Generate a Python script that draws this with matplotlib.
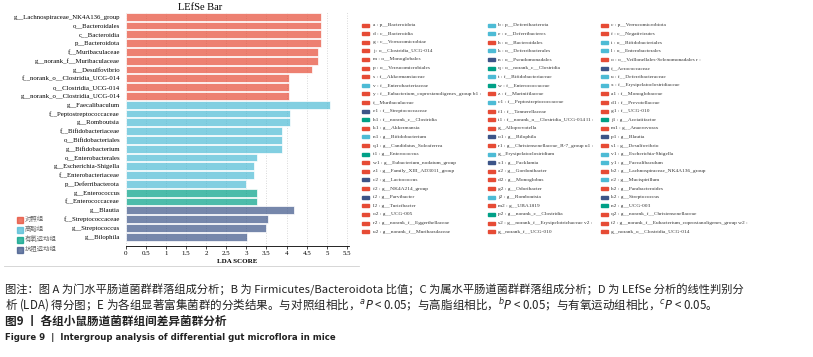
import matplotlib.pyplot as plt
from matplotlib.colors import to_rgba
from matplotlib.patches import Rectangle
from matplotlib.lines import Line2D

# LEfSe bar data (top to bottom)
features = ['g__Lachnospiraceae_NK4A136_group', 'o__Bacteroidales', 'c__Bacteroidia',
            'p__Bacteroidota', 'f__Muribaculaceae', 'g__norank_f__Muribaculaceae',
            'g__Desulfovibrio', 'f__norank_o__Clostridia_UCG-014', 'o__Clostridia_UCG-014',
            'g__norank_o__Clostridia_UCG-014', 'g__Faecalibaculum', 'f__Peptostreptococcaceae',
            'g__Romboutsia', 'f__Bifidobacteriaceae', 'o__Bifidobacteriales',
            'g__Bifidobacterium', 'o__Enterobacterales', 'g__Escherichia-Shigella',
            'f__Enterobacteriaceae', 'p__Deferribacterota', 'g__Enterococcus',
            'f__Enterococcaceae', 'g__Blautia', 'f__Streptococcaceae', 'g__Streptococcus',
            'g__Bilophila']
lda_scores = [4.85, 4.85, 4.85, 4.85, 4.79, 4.79, 4.62, 4.06, 4.06, 4.06,
              5.09, 4.09, 4.09, 3.89, 3.89, 3.89, 3.26, 3.20, 3.20, 3.00,
              3.26, 3.26, 4.19, 3.55, 3.48, 3.02]
feature_group = [0] * 10 + [1] * 10 + [2] * 2 + [3] * 4
group_names = ['对照组', '高脂组', '有氧运动组', '抗阻运动组']
group_colors = ['#E64B35', '#4DBBD5', '#00A087', '#3C5488']
x_ticks = [0, 0.5, 1, 1.5, 2, 2.5, 3, 3.5, 4, 4.5, 5, 5.5]

# cladogram key (label, group index) per column
key_col1 = [('a : p__Bacteroidota', 0), ('d : c__Bacteroidia', 0), ('g : c__Verrucomicrobiae', 0),
            ('j : o__Clostridia_UCG-014', 0), ('m : o__Monoglobales', 0),
            ('p : o__Verrucomicrobiales', 0), ('s : f__Akkermansiaceae', 0),
            ('v : f__Enterobacteriaceae', 1),
            ('y : f__Eubacterium_coprostanoligenes_group b1 :', 0), ('f__Muribaculaceae', 0),
            ('e1 : f__Streptococcaceae', 3), ('h1 : f__norank_c__Clostridia', 2),
            ('k1 : g__Akkermansia', 0), ('n1 : g__Bifidobacterium', 1),
            ('q1 : g__Candidatus_Soleaferrea', 0), ('t1 : g__Enterococcus', 2),
            ('w1 : g__Eubacterium_nodatum_group', 0), ('z1 : g__Family_XIII_AD3011_group', 0),
            ('c2 : g__Lactococcus', 3), ('f2 : g__NK4A214_group', 0), ('i2 : g__Parvibacter', 3),
            ('l2 : g__Turicibacter', 0), ('o2 : g__UCG-005', 0),
            ('r2 : g__norank_f__Eggerthellaceae', 0), ('u2 : g__norank_f__Muribaculaceae', 0)]
key_col2 = [('b : p__Deferribacterota', 1), ('e : c__Deferribacteres', 1),
            ('h : o__Bacteroidales', 0), ('k : o__Deferribacterales', 1),
            ('n : o__Pseudomonadales', 3), ('q : o__norank_c__Clostridia', 2),
            ('t : f__Bifidobacteriaceae', 1), ('w : f__Enterococcaceae', 2),
            ('z : f__Marinifilaceae', 0), ('c1 : f__Peptostreptococcaceae', 1),
            ('f1 : f__Tannerellaceae', 0), ('i1 : f__norank_o__Clostridia_UCG-014 l1 :', 0),
            ('g__Alloprevotella', 0), ('o1 : g__Bilophila', 3),
            ('r1 : g__Christensenellaceae_R-7_group u1 :', 0), ('g__Erysipelatoclostridium', 1),
            ('x1 : g__Facklamia', 3), ('a2 : g__Gordonibacter', 0), ('d2 : g__Monoglobus', 0),
            ('g2 : g__Odoribacter', 0), ('j2 : g__Romboutsia', 1), ('m2 : g__UBA1819', 0),
            ('p2 : g__norank_c__Clostridia', 2),
            ('s2 : g__norank_f__Erysipelotrichaceae v2 :', 0), ('g__norank_f__UCG-010', 0)]
key_col3 = [('c : p__Verrucomicrobiota', 0), ('f : c__Negativicutes', 0),
            ('i : o__Bifidobacteriales', 1), ('l : o__Enterobacterales', 1),
            ('o : o__Veillonellales-Selenomonadales r :', 0), ('f__Aerococcaceae', 3),
            ('u : f__Deferribacteraceae', 1), ('x : f__Erysipelatoclostridiaceae', 1),
            ('a1 : f__Monoglobaceae', 0), ('d1 : f__Prevotellaceae', 0), ('g1 : f__UCG-010', 0),
            ('j1 : g__Acetatifactor', 2), ('m1 : g__Anaerovorax', 0), ('p1 : g__Blautia', 3),
            ('s1 : g__Desulfovibrio', 0), ('v1 : g__Escherichia-Shigella', 1),
            ('y1 : g__Faecalibaculum', 1), ('b2 : g__Lachnospiraceae_NK4A136_group', 0),
            ('e2 : g__Mucispirillum', 1), ('h2 : g__Parabacteroides', 0),
            ('k2 : g__Streptococcus', 3), ('n2 : g__UCG-003', 2),
            ('q2 : g__norank_f__Christensenellaceae', 0),
            ('t2 : g__norank_f__Eubacterium_coprostanoligenes_group w2 :', 0),
            ('g__norank_o__Clostridia_UCG-014', 0)]

caption1 = '图注：图 A 为门水平肠道菌群群落组成分析；B 为 Firmicutes/Bacteroidota 比值；C 为属水平肠道菌群群落组成分析；D 为 LEfSe 分析的线性判别分'
caption2 = ('析 (LDA) 得分图；E 为各组显著富集菌群的分类结果。与对照组相比，${}^{a}P$ < 0.05；'
            '与高脂组相比，${}^{b}P$ < 0.05；与有氧运动组相比，${}^{c}P$ < 0.05。')
caption3 = '图9 丨 各组小鼠肠道菌群组间差异菌群分析'
caption4 = 'Figure 9  |  Intergroup analysis of differential gut microflora in mice'

W, H = 813, 357
fig = plt.figure(figsize=(W / 100, H / 100), dpi=100)
serif = ['Liberation Serif', 'DejaVu Serif']
cjk = ['Noto Sans CJK SC', 'DejaVu Sans']

# bar chart
ax = fig.add_axes([125.5 / W, 1 - 246 / H, (349 - 125.5) / W, (246 - 12) / H])
bar_cols = [to_rgba(group_colors[g], 0.7) for g in feature_group]
ax.barh(range(len(features)), lda_scores, height=0.88, color=bar_cols,
        edgecolor='white', linewidth=0.5, zorder=2)
ax.set_ylim(26.06, -0.53)
ax.set_xlim(0, 5.55)
ax.set_yticks(range(len(features)))
ax.set_yticklabels(features, fontsize=4.9, family=serif)
ax.set_xticks(x_ticks)
ax.set_xticklabels([f'{t:g}' for t in x_ticks], fontsize=5, family=serif)
ax.tick_params(axis='y', length=0, pad=4)
ax.tick_params(axis='x', length=2, width=0.5, pad=1.5)
ax.xaxis.grid(True, linestyle=(0, (1, 2)), color='#cccccc', linewidth=0.6)
ax.set_axisbelow(True)
for s in ['left', 'top', 'right']:
    ax.spines[s].set_visible(False)
ax.spines['bottom'].set_linewidth(0.6)
ax.set_xlabel('LDA SCORE', fontsize=5, family=serif, fontweight='bold', labelpad=2)

# overlay in pixel coordinates
ov = fig.add_axes([0, 0, 1, 1])
ov.set_xlim(0, W)
ov.set_ylim(H, 0)
ov.axis('off')

ov.text(200, 7, 'LEfSe Bar', fontsize=7.5, family=serif, ha='center', va='center')
ov.add_line(Line2D([4, 359], [266, 266], color='#d0d0d0', linewidth=0.6))

for i, name in enumerate(group_names):
    y = 219.5 + i * 10
    ov.add_patch(Rectangle((17, y - 3), 6, 6, color=to_rgba(group_colors[i], 0.75)))
    ov.text(25, y, name, fontsize=4.6, family=cjk, color='#666666', va='center')

for col, (mx, tx) in zip([key_col1, key_col2, key_col3], [(365.5, 373), (491, 498), (604, 611)]):
    for j, (label, g) in enumerate(col):
        y = 25 + j * 8.61
        ov.add_patch(Rectangle((mx - 3.5, y - 1.5), 7, 3, color=group_colors[g]))
        ov.text(tx, y, label, fontsize=3.85, family=serif, color='#333333', va='center')

ov.text(5, 290, caption1, fontsize=8.1, family=cjk, color='#222222', va='center')
ov.text(5, 305, caption2, fontsize=8.3, family=cjk, color='#222222', va='center')
ov.text(5, 321, caption3, fontsize=8.4, family=cjk, color='#222222', va='center', fontweight='bold')
ov.text(5, 338, caption4, fontsize=6.8, family='DejaVu Sans', fontstretch='condensed',
        color='#222222', va='center', fontweight='bold')

fig.savefig('out.png', dpi=100)
